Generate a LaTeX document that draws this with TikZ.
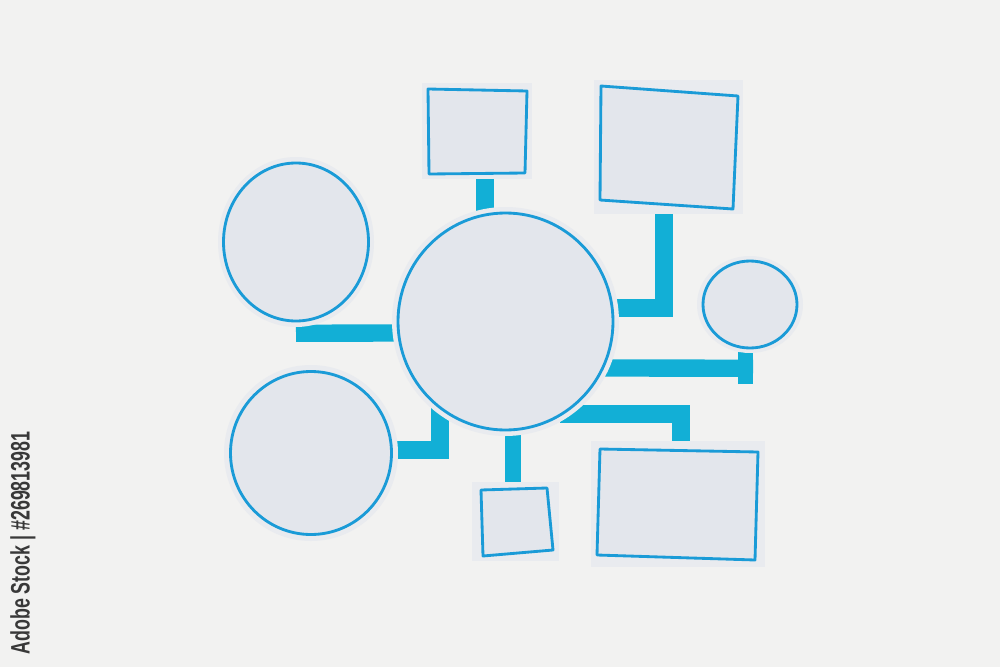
\documentclass[tikz,border=0pt]{standalone}
\usepackage{fontspec}
\usepackage{graphicx}
\newfontfamily\stampfont{Liberation Sans}
\usetikzlibrary{shapes.geometric,calc}
\pgfdeclarelayer{tapes}
\pgfdeclarelayer{bg}
\pgfsetlayers{bg,tapes,main}
\definecolor{bgc}{HTML}{F2F2F1}
\definecolor{paperedge}{HTML}{E9EBEF}
\definecolor{paperin}{HTML}{E3E6EC}
\definecolor{inkc}{HTML}{1A9BD7}
\definecolor{tapec}{HTML}{12AFD6}
\definecolor{stampc}{HTML}{383838}
\begin{document}
\begin{tikzpicture}[x=0.3mm,y=-0.3mm,
  paperc/.style={ellipse, fill=paperedge, inner sep=0pt},
  paperr/.style={rectangle, fill=paperedge, inner sep=0pt},
  ink/.style={draw=inkc, line width=0.85mm, fill=paperin, line join=round},
  tape/.style={draw=tapec, line width=5.2mm, line cap=butt, line join=miter}]
\begin{pgfonlayer}{bg}
\fill[bgc] (0,0) rectangle (1000,667);
\end{pgfonlayer}
\useasboundingbox (0,0) rectangle (1000,667);

% paper cut-outs
\node[paperc, minimum width=46.8mm, minimum height=51mm] (L1) at (296,242) {};
\node[paperc, minimum width=68.1mm, minimum height=68.7mm] (C) at (505.5,321.5) {};
\node[paperc, minimum width=31.8mm, minimum height=29.1mm] (R) at (750,304.5) {};
\node[paperc, minimum width=52.2mm, minimum height=52.8mm] (L2) at (311,453) {};
\node[paperr, minimum width=33mm, minimum height=28.8mm] (sqA) at (477,131) {};
\node[paperr, minimum width=44.7mm, minimum height=40.2mm] (rA) at (668.5,147) {};
\node[paperr, minimum width=26.1mm, minimum height=23.7mm] (sqB) at (515.5,521.5) {};
\node[paperr, minimum width=52.2mm, minimum height=37.8mm] (rB) at (678,504) {};

% hand-drawn ink outlines
\draw[ink] (L1.center) ellipse [x radius=72.5, y radius=79];
\draw[ink] (C.center) ellipse [x radius=107.5, y radius=108.5];
\draw[ink] (R.center) ellipse [x radius=47, y radius=43.5];
\draw[ink] (L2.center) ellipse [x radius=80.5, y radius=81.5];
\draw[ink, shift={(sqA.center)}] (-49,-42) -- (50,-40) -- (48,42) -- (-48,43) -- cycle;
\draw[ink, shift={(rA.center)}] (-67.5,-61) -- (69.5,-51) -- (64.5,62) -- (-68.5,53) -- cycle;
\draw[ink, shift={(sqB.center)}] (-34.5,-31.5) -- (31.5,-33.5) -- (37.5,28.5) -- (-32.5,34.5) -- cycle;
\draw[ink, shift={(rB.center)}] (-78,-55) -- (80,-52) -- (77,56) -- (-81,51) -- cycle;

% tape connectors (under the paper)
\begin{pgfonlayer}{tapes}
\draw[tape] ([shift={(8,-5)}]sqA.south) -- ([shift={(-20.5,20)}]C.north);
\draw[tape] ([shift={(-4.5,-9)}]rA.south) |- ([shift={(-10.5,-13.5)}]C.east);
\draw[tape] ([shift={(0,6)}]L1.south) -- ([shift={(20,11.5)}]C.west);
\draw[tape] ([shift={(-22,46.5)}]C.east) -- ([shift={(3,15)}]R.south);
\draw[tape, line width=4.6mm] ([shift={(-4.5,31)}]R.south) -- ([shift={(-4.5,-13)}]R.south);
\draw[tape] ([shift={(-13,-3)}]L2.east) -| ([shift={(-65.5,-30)}]C.south);
\draw[tape, line width=4.8mm] ([shift={(7.5,-10)}]C.south) -- ([shift={(-2.5,8)}]sqB.north);
\draw[tape] ([shift={(-59,92.5)}]C.east) -| ([shift={(3,15)}]rB.north);
\end{pgfonlayer}

% stock stamp
\node[rotate=90, text=stampc, inner sep=0pt] (stamp) at (23,543)
  {\resizebox{66.9mm}{5.8mm}{\stampfont\bfseries Adobe Stock | \#269813981}};
\end{tikzpicture}
\end{document}
